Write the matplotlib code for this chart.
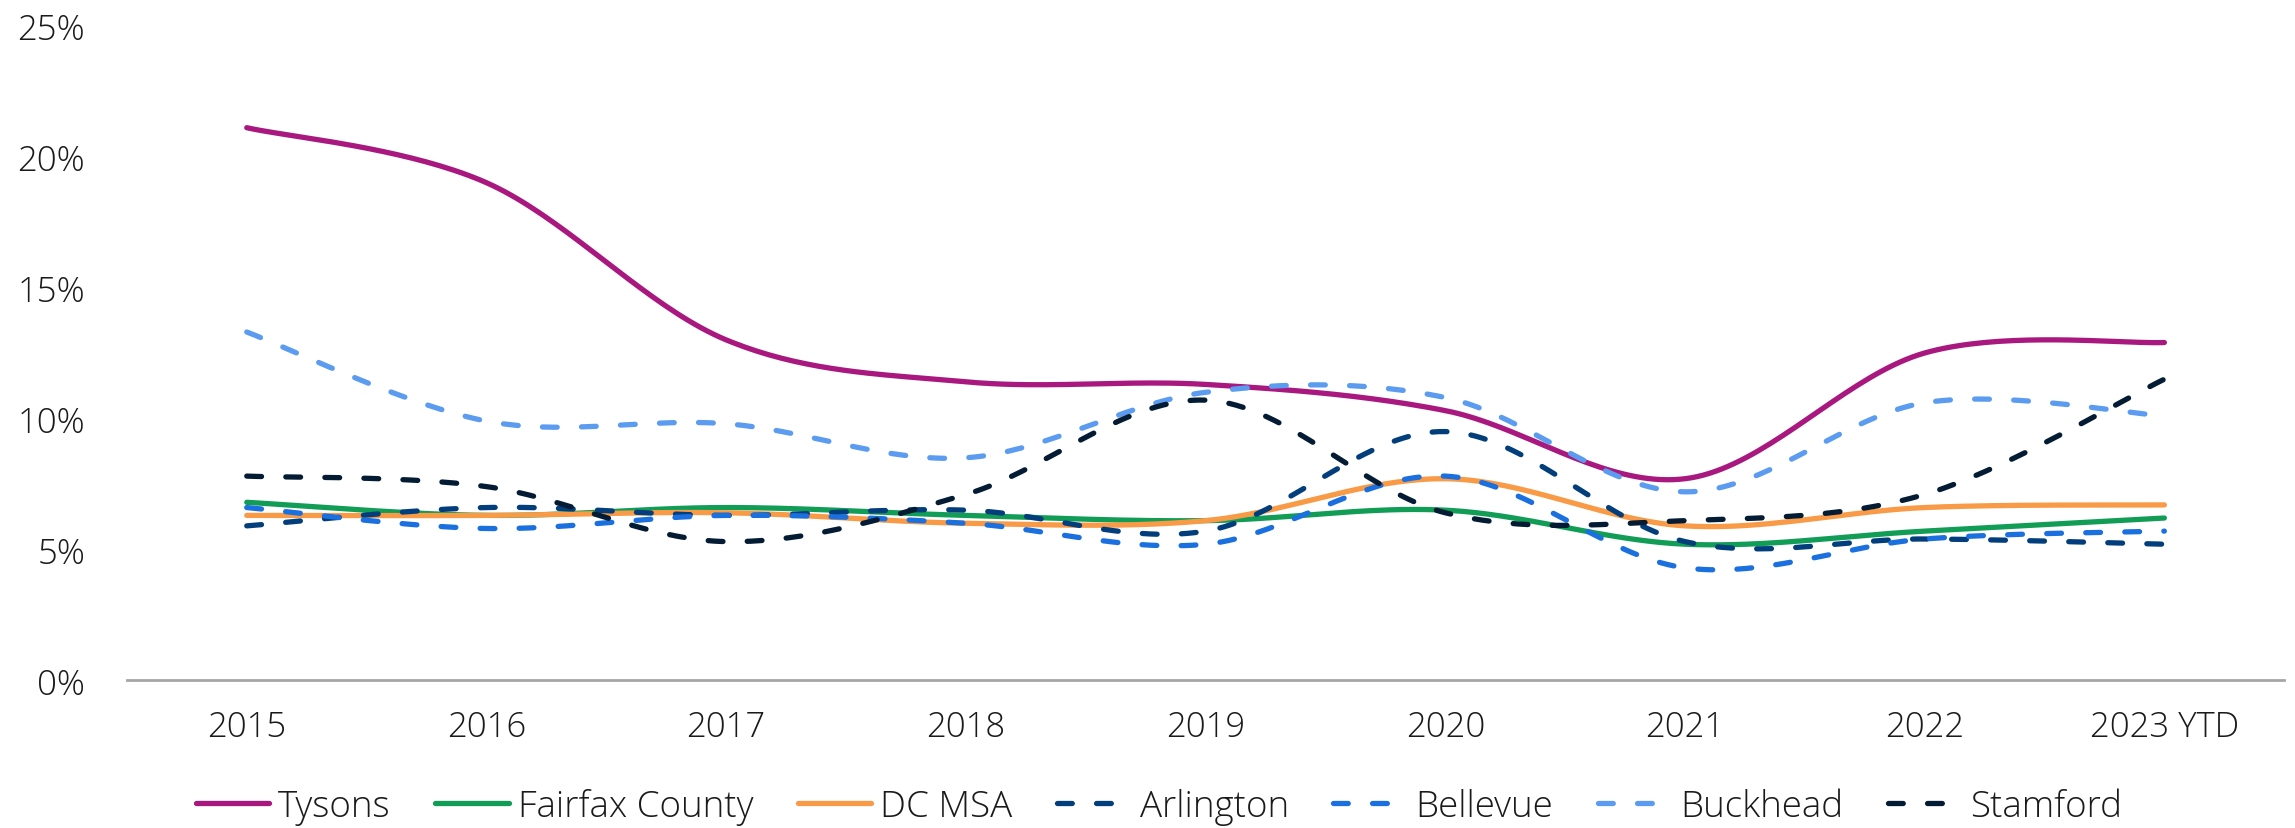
import numpy as np
import matplotlib
matplotlib.use("Agg")
import matplotlib.pyplot as plt

plt.rcParams["font.family"] = ["Open Sans", "DejaVu Sans"]
plt.rcParams["font.weight"] = "light"

# -----------------------------
# DATA (vacancy rate, %)
# -----------------------------
years = ["2015", "2016", "2017", "2018", "2019", "2020", "2021", "2022", "2023 YTD"]

tysons = [21.1, 19.0, 13.0, 11.4, 11.3, 10.3, 7.7, 12.5, 12.9]
fairfax = [6.8, 6.3, 6.6, 6.3, 6.1, 6.5, 5.2, 5.7, 6.2]
dc_msa = [6.3, 6.3, 6.4, 6.0, 6.1, 7.7, 5.9, 6.6, 6.7]
arlington = [5.9, 6.6, 6.3, 6.5, 5.7, 9.5, 5.3, 5.4, 5.2]
bellevue = [6.6, 5.8, 6.3, 6.0, 5.2, 7.8, 4.3, 5.4, 5.7]
buckhead = [13.3, 9.9, 9.8, 8.5, 11.0, 10.8, 7.2, 10.6, 10.1]
stamford = [7.8, 7.4, 5.3, 7.1, 10.7, 6.4, 6.1, 7.1, 11.5]

series = [
    ("Tysons", tysons, "#a8187e", "-"),
    ("Fairfax County", fairfax, "#129d57", "-"),
    ("DC MSA", dc_msa, "#f89a46", "-"),
    ("Arlington", arlington, "#013e7b", "--"),
    ("Bellevue", bellevue, "#1a70de", "--"),
    ("Buckhead", buckhead, "#5b9cf0", "--"),
    ("Stamford", stamford, "#031b33", "--"),
]


def smooth(xs, ys, n=40):
    # bezier through points, control handles from neighbouring points
    pts = np.column_stack([xs, ys]).astype(float)
    p = np.vstack([pts[0], pts, pts[-1]])
    t = np.linspace(0, 1, n)[:, None]
    out = []
    for i in range(1, len(p) - 2):
        p0, p1, p2, p3 = p[i - 1], p[i], p[i + 1], p[i + 2]
        c1 = p1 + (p2 - p0) / 6
        c2 = p2 - (p3 - p1) / 6
        seg = (1 - t) ** 3 * p1 + 3 * (1 - t) ** 2 * t * c1 + 3 * (1 - t) * t ** 2 * c2 + t ** 3 * p2
        out.append(seg if i == 1 else seg[1:])
    out = np.vstack(out)
    return out[:, 0], out[:, 1]


# -----------------------------
# PLOT
# -----------------------------
fig = plt.figure(figsize=(22.95, 8.29), dpi=100)
ax = fig.add_axes([0.0553, 0.178, 0.94, 0.79])

x = np.arange(len(years))
for name, vals, color, ls in series:
    sx, sy = smooth(x, vals)
    if ls == "-":
        ax.plot(sx, sy, color=color, lw=3.8, solid_capstyle="round", label=name)
    else:
        ax.plot(sx, sy, color=color, lw=3.8, linestyle=(0, (2.8, 4.6)),
                dash_capstyle="round", label=name)

ax.set_xlim(-0.5, len(years) - 0.5)
ax.set_ylim(0, 25)
ax.set_xticks(x)
ax.set_xticklabels(years)
ax.set_yticks(range(0, 26, 5))
ax.set_yticklabels([f"{v}%" for v in range(0, 26, 5)])

for s in ["left", "right", "top"]:
    ax.spines[s].set_visible(False)
ax.spines["bottom"].set_color("#a6a6a6")
ax.spines["bottom"].set_linewidth(2)
ax.tick_params(axis="both", length=0, labelsize=25, colors="#1a1a1a")
ax.tick_params(axis="y", pad=30)
ax.tick_params(axis="x", pad=21)

fig.legend(loc="center", bbox_to_anchor=(0.505, 0.026), ncol=7, frameon=False,
           fontsize=26.5, handlelength=2.0, handletextpad=0.25, columnspacing=1.2,
           labelcolor="#1a1a1a")

fig.savefig("out.png", dpi=100)
